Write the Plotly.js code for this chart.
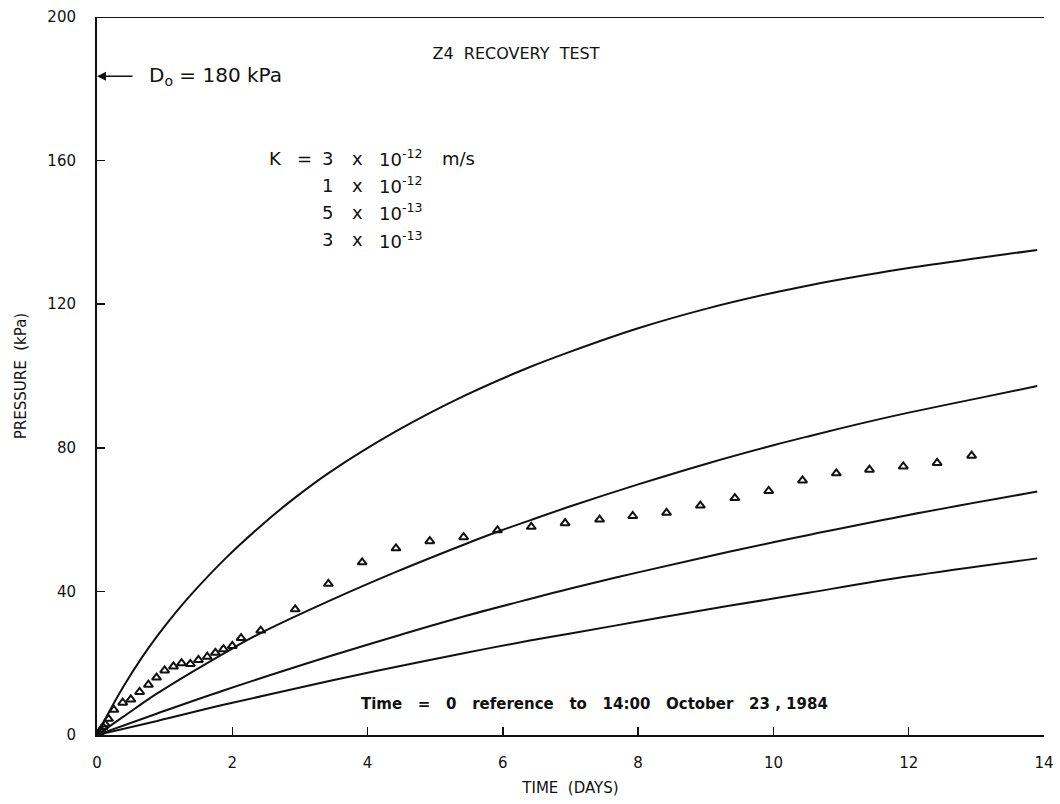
<!DOCTYPE html>
<html>
<head>
<meta charset="utf-8">
<script src="https://cdn.plot.ly/plotly-3.0.1.min.js"></script>
<style>
  html, body { margin: 0; padding: 0; background: #fff; }
  #chart { width: 1060px; height: 804px; }
</style>
</head>
<body>
<div id="chart"></div>
<script>
// ---- Data ----
// Measured pressure (triangles)
const obsTime = [0, 0.03, 0.06, 0.09, 0.12, 0.17,
  0.25, 0.38, 0.50, 0.63, 0.76, 0.88, 1.00, 1.13, 1.25, 1.38, 1.50, 1.63, 1.75, 1.87, 2.00, 2.13,
  2.42, 2.93, 3.42, 3.92, 4.42, 4.92, 5.42, 5.92, 6.42, 6.92, 7.43, 7.92, 8.42, 8.92, 9.43, 9.93,
  10.43, 10.93, 11.42, 11.92, 12.42, 12.93];
const obsPressure = [0, 0.6, 1.4, 2.2, 3.0, 4.5,
  7.0, 9.0, 9.9, 12.0, 14.0, 16.0, 18.0, 19.1, 20.0, 19.8, 20.9, 21.8, 22.9, 23.9, 24.8, 27.0,
  29.1, 35.0, 42.1, 48.1, 52.0, 54.0, 55.1, 57.0, 58.0, 59.0, 60.0, 61.0, 61.9, 63.9, 66.0, 68.0,
  70.9, 72.9, 73.9, 74.8, 75.8, 77.8];

// Calculated curves for each K
const k1Time = [0, 0.2, 0.4, 0.65, 0.9, 1.15, 1.4, 1.9, 2.4, 2.9, 3.45, 4.43, 5.42, 6.4, 7.0, 8.0, 9.0, 10.0, 10.54, 11.3, 12.0, 13.0, 13.9];
const k1Pressure = [0, 7.2, 13.8, 21.2, 27.8, 33.8, 39.3, 49.2, 57.9, 65.7, 73.3, 84.7, 94.4, 102.5, 106.8, 113.3, 118.7, 123.2, 125.3, 127.9, 130.1, 132.8, 135.1];

const k2Time = [0, 0.39, 0.89, 2.02, 2.42, 3.45, 4.43, 5.42, 5.92, 6.4, 7.0, 8.0, 9.0, 10.0, 10.54, 11.3, 12.0, 13.0, 13.9];
const k2Pressure = [0, 5.1, 11.6, 24.3, 28.4, 37.5, 45.5, 53.0, 56.6, 59.8, 63.7, 69.8, 75.5, 80.7, 83.3, 86.8, 89.8, 93.7, 97.2];

const k3Time = [0, 0.89, 1.87, 3.45, 4.43, 5.42, 6.4, 7.0, 8.0, 9.0, 10.0, 10.54, 12.0, 13.9];
const k3Pressure = [0, 6.0, 12.4, 22.0, 27.6, 33.0, 37.9, 40.8, 45.3, 49.6, 53.7, 55.8, 61.3, 67.8];

const k4Time = [0, 0.89, 1.87, 3.45, 4.43, 5.42, 6.4, 7.0, 8.0, 9.0, 10.0, 10.54, 12.0, 13.9];
const k4Pressure = [0, 3.9, 8.4, 15.1, 19.0, 22.8, 26.3, 28.3, 31.6, 34.9, 38.0, 39.7, 44.2, 49.2];

const xTicks = [0, 2, 4, 6, 8, 10, 12, 14];
const yTicks = [0, 40, 80, 120, 160, 200];
const initialPressure = 183.5;   // level of the "Do = 180 kPa" arrow
const kMantissa = ['3', '1', '5', '3'];
const kExponent = ['-12', '-12', '-13', '-13'];

// ---- Styling ----
const NB = '\u00a0';
const sp = n => NB.repeat(n);
const fontFam = '"DejaVu Sans", "Liberation Sans", sans-serif';
const ink = '#111';
const lineStyle = {color: ink, width: 2, shape: 'spline', smoothing: 1};

const curves = [[k1Time, k1Pressure], [k2Time, k2Pressure], [k3Time, k3Pressure], [k4Time, k4Pressure]];
const traces = curves.map(([t, p]) => ({
  x: t, y: p, type: 'scatter', mode: 'lines', line: lineStyle, hoverinfo: 'skip', showlegend: false
}));
traces.push({
  x: obsTime, y: obsPressure, type: 'scatter', mode: 'markers', showlegend: false,
  marker: {symbol: 'triangle-up-open', size: 8, color: ink, line: {width: 2, color: ink}}
});

const px2paperX = px => (px - 96.6) / 947.8;
const px2paperY = py => (735 - py) / 718;

function label(px, py, text, size, anchor) {
  return {x: px2paperX(px), y: px2paperY(py), xref: 'paper', yref: 'paper',
    xanchor: anchor || 'left', yanchor: 'middle', showarrow: false,
    font: {family: fontFam, size: size, color: ink}, text: text};
}

const kRowsY = [158, 185, 212, 240];
const kSize = 18;
const kAnnotations = [];
kAnnotations.push(label(267, kRowsY[0], 'K', kSize));
kAnnotations.push(label(295, kRowsY[0], '=', kSize));
kMantissa.forEach((m, i) => {
  kAnnotations.push(label(320, kRowsY[i], m, kSize));
  kAnnotations.push(label(350, kRowsY[i], 'x', kSize));
  kAnnotations.push(label(377, kRowsY[i], '10<sup>' + kExponent[i] + '</sup>', kSize));
});
kAnnotations.push(label(440, kRowsY[0], 'm/s', kSize));

const layout = {
  width: 1060, height: 804,
  margin: {l: 96.6, r: 15.6, t: 17, b: 69},
  paper_bgcolor: '#fff', plot_bgcolor: '#fff',
  font: {family: fontFam, color: ink, size: 14},
  title: {
    text: 'Z4' + sp(2) + 'RECOVERY' + sp(2) + 'TEST',
    x: 516 / 1060, xanchor: 'center', y: 1 - 53 / 804, yanchor: 'middle',
    font: {family: fontFam, size: 16, color: ink}
  },
  xaxis: {
    range: [0, 14], tickvals: xTicks, ticktext: xTicks.map(String),
    showgrid: false, zeroline: false, showline: true, linecolor: ink, linewidth: 2,
    ticks: 'inside', ticklen: 8, tickwidth: 1.5, tickcolor: ink,
    ticklabelstandoff: 13,
    tickfont: {family: fontFam, size: 15, color: ink},
    title: {text: 'TIME' + sp(2) + '(DAYS)', standoff: 11, font: {family: fontFam, size: 15, color: ink}}
  },
  yaxis: {
    range: [0, 200], tickvals: yTicks, ticktext: yTicks.map(String),
    showgrid: false, zeroline: false, showline: true, linecolor: ink, linewidth: 2,
    ticks: 'inside', ticklen: 8, tickwidth: 1.5, tickcolor: ink,
    ticklabelstandoff: 16,
    tickfont: {family: fontFam, size: 15, color: ink},
    title: {text: 'PRESSURE' + sp(2) + '(kPa)', standoff: 17, font: {family: fontFam, size: 15, color: ink}}
  },
  shapes: [
    {type: 'line', xref: 'x', yref: 'y', x0: 0, x1: 14, y0: 200, y1: 200, line: {color: ink, width: 2}}
  ],
  annotations: [
    // arrow for Do
    {x: 0, y: initialPressure, xref: 'x', yref: 'y', text: '', showarrow: true,
     ax: 37, ay: 0, arrowhead: 2, arrowsize: 1.2, arrowwidth: 1.5, arrowcolor: ink},
    label(147, 76, 'D<sub>o</sub> = 180 kPa', 20),
    ...kAnnotations,
    // reference time note
    label(595, 704, '<b>Time' + sp(3) + '=' + sp(3) + '0' + sp(3) + 'reference' + sp(3) + 'to' + sp(3) + '14:00' + sp(3) + 'October' + sp(3) + '23' + sp(1) + ',' + sp(1) + '1984</b>', 15, 'center')
  ]
};

Plotly.newPlot('chart', traces, layout, {displayModeBar: false, staticPlot: true});
</script>
</body>
</html>
